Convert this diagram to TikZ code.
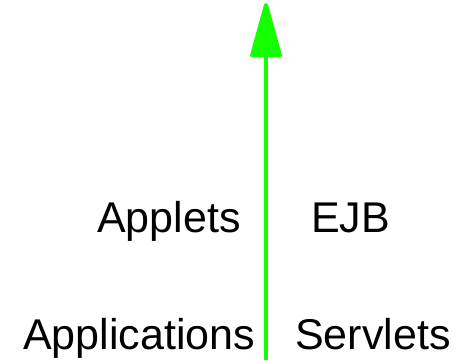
\documentclass[tikz,border=0pt]{standalone}
\usepackage{fontspec}
\setmainfont{Liberation Sans}
\usetikzlibrary{arrows.meta}
\definecolor{arrowgreen}{RGB}{20,255,0}
\tikzset{
	label text/.style={anchor=base west, inner sep=0pt, font=\fontsize{43}{50}\selectfont},
}
\begin{document}
\begin{tikzpicture}[x=1pt, y=-1pt]
		\useasboundingbox (0, 0) rectangle (466, 360);
		\coordinate (0) at (266, 360);
		\coordinate (1) at (266, 3);
		\node [label text] (applets) at (97, 232) {Applets};
		\node [label text] (ejb) at (311, 232) {EJB};
		\node [label text] (applications) at (23, 349) {Applications};
		\node [label text] (servlets) at (295, 349) {Servlets};
		\draw [arrowgreen, line width=4pt, -{Triangle[length=60pt, width=32pt, round]}] (0) to (1);
\end{tikzpicture}
\end{document}
